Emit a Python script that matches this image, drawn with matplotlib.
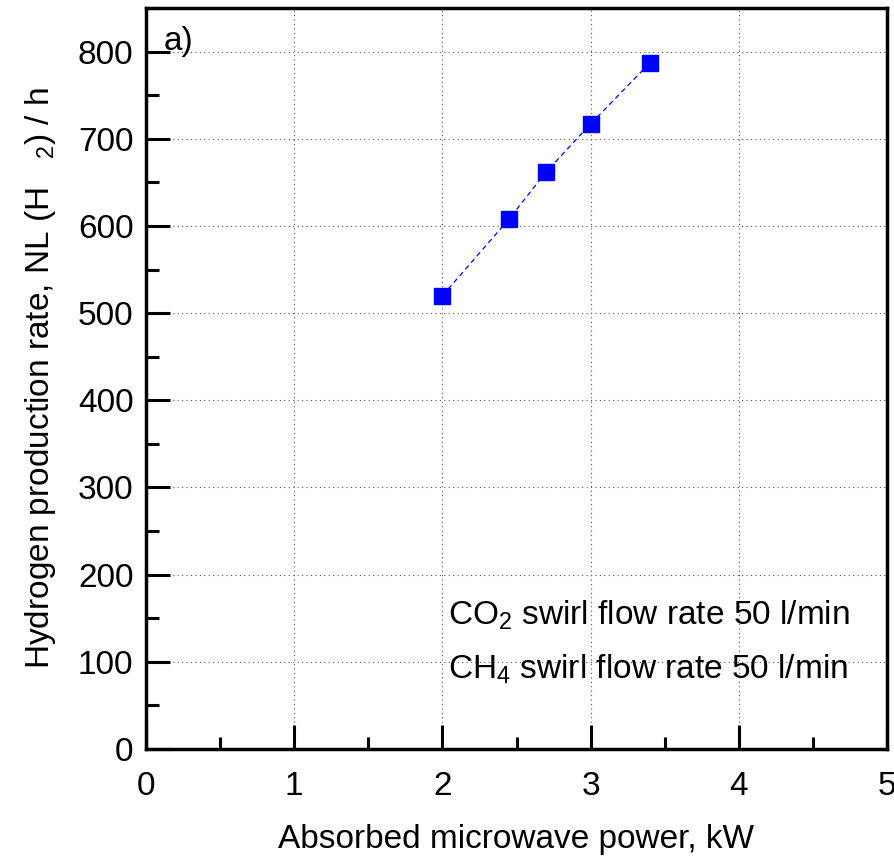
import matplotlib
matplotlib.use("Agg")
import matplotlib.pyplot as plt
from matplotlib.ticker import MultipleLocator

# absorbed power (kW) vs hydrogen production rate (NL/h)
power = [2.0, 2.45, 2.7, 3.0, 3.4]
h2_rate = [520, 608, 662, 717, 787]

plt.rcParams["font.family"] = ["Liberation Sans", "DejaVu Sans"]
plt.rcParams["mathtext.fontset"] = "custom"
plt.rcParams["mathtext.rm"] = "Liberation Sans"

fig = plt.figure(figsize=(8.95, 8.58), dpi=100)
ax = fig.add_axes([146 / 895, 1 - 749 / 858, (887 - 146) / 895, (749 - 8) / 858])

ax.plot(power, h2_rate, color="blue", linestyle=(0, (4, 3)), linewidth=0.9,
        marker="s", markersize=11, markerfacecolor="blue", markeredgecolor="blue")

ax.set_xlim(0, 5)
ax.set_ylim(0, 850)
ax.xaxis.set_major_locator(MultipleLocator(1))
ax.xaxis.set_minor_locator(MultipleLocator(0.5))
ax.yaxis.set_major_locator(MultipleLocator(100))
ax.yaxis.set_minor_locator(MultipleLocator(50))

ax.grid(True, which="major", color="#555555", linestyle=(0, (1, 3)), linewidth=0.8)
ax.tick_params(which="major", direction="in", length=17, width=2.2, labelsize=24, pad=9,
               top=False, right=False)
ax.tick_params(axis="x", which="major", pad=16)
ax.tick_params(which="minor", direction="in", length=9, width=2.2, top=False, right=False)
for s in ax.spines.values():
    s.set_linewidth(2.5)

ax.set_xlabel("Absorbed microwave power, kW", fontsize=24, labelpad=16)
ax.set_ylabel(r"Hydrogen production rate, NL (H   $_2$) / h", fontsize=24, labelpad=14)

ax.text(0.12, 812, "a)", fontsize=24, va="center", ha="left")
ax.text(2.04, 153, r"CO$_2$ swirl flow rate 50 l/min", fontsize=24, va="center")
ax.text(2.04, 92, r"CH$_4$ swirl flow rate 50 l/min", fontsize=24, va="center")

fig.savefig("out.png", dpi=100)
